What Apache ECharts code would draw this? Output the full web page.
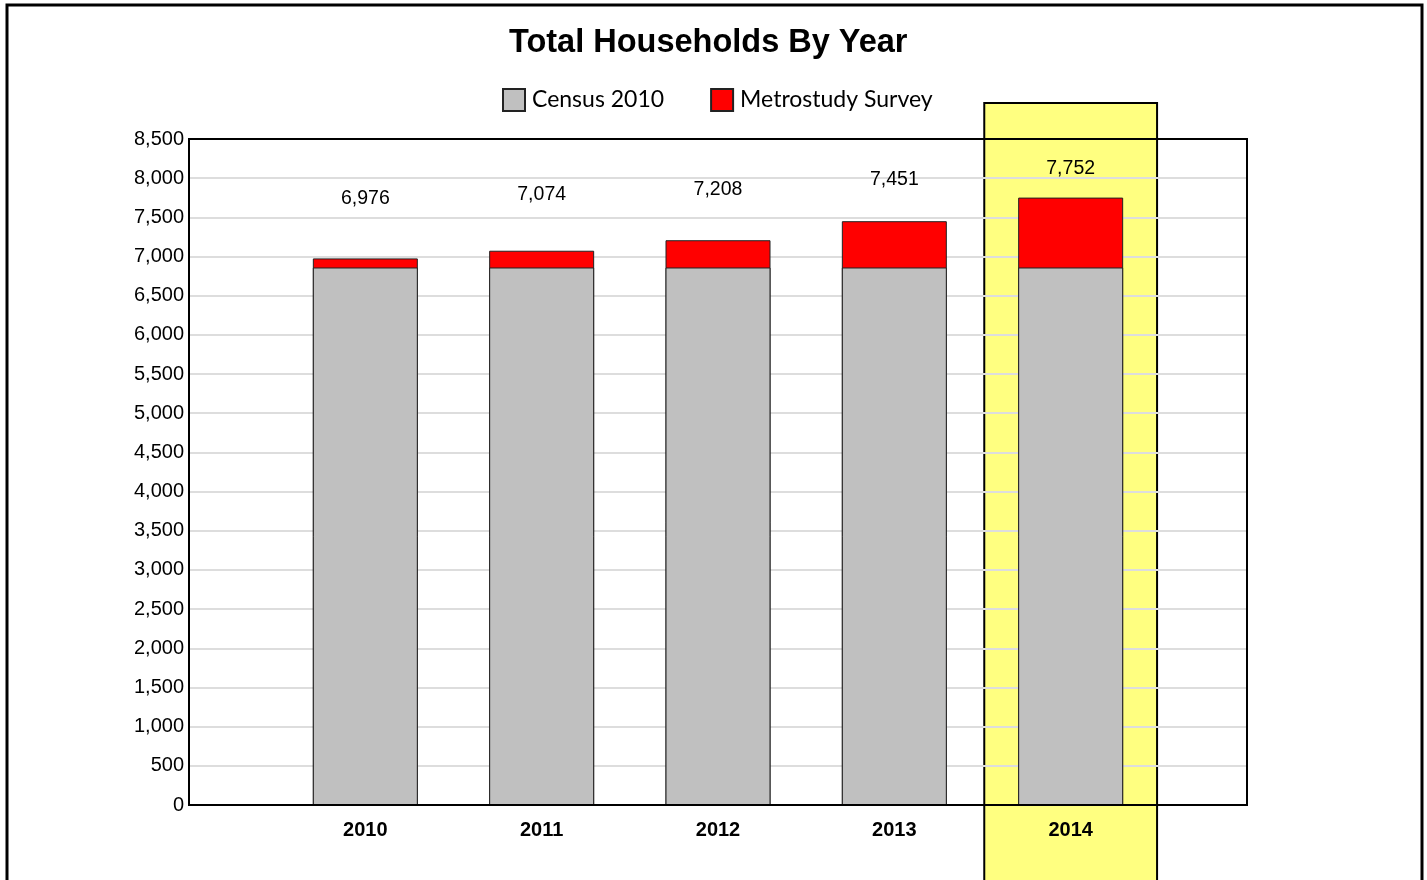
<!DOCTYPE html>
<html>
<head>
<meta charset="utf-8">
<title>Total Households By Year</title>
<script src="https://cdn.jsdelivr.net/npm/echarts@6/dist/echarts.min.js"></script>
<style>
  html, body { margin: 0; padding: 0; background: #fff; }
  #chart { width: 1427px; height: 880px; }
</style>
</head>
<body>
<div id="chart"></div>
<script>
// data
var years = ['2010', '2011', '2012', '2013', '2014'];
var census2010 = [6860, 6860, 6860, 6860, 6860];
var totals = [6976, 7074, 7208, 7451, 7752];
var yTicks = { min: 0, max: 8500, step: 500 };

var chart = echarts.init(document.getElementById('chart'));

function pos(i) { return i + 1; } // year i sits at x = i + 1 on a 0..6 axis

var option = {
    animation: false,
    title: {
        text: 'Total Households By Year',
        left: 504,
        top: 22,
        textStyle: { fontFamily: 'Liberation Sans', fontWeight: 'bold', fontSize: 32.5, color: '#000' }
    },
    legend: {
        left: 497,
        top: 83,
        itemWidth: 22,
        itemHeight: 22,
        itemGap: 46,
        icon: 'rect',
        data: ['Census 2010', 'Metrostudy Survey'],
        textStyle: { fontFamily: 'Lato', fontSize: 23, color: '#000', padding: [0, 0, 0, 2] }
    },
    grid: {
        left: 189, right: 180, top: 139, bottom: 75
    },
    xAxis: {
        type: 'value',
        min: 0, max: 6, interval: 1,
        axisLine: { show: true, lineStyle: { color: '#000', width: 2 } },
        axisTick: { show: false },
        splitLine: { show: false },
        axisLabel: {
            margin: 15,
            fontFamily: 'Liberation Sans', fontWeight: 'bold', fontSize: 20, color: '#000',
            formatter: function (v) { return years[v - 1] || ''; }
        }
    },
    yAxis: {
        type: 'value',
        min: yTicks.min, max: yTicks.max, interval: yTicks.step,
        axisLine: { show: true, lineStyle: { color: '#000', width: 2 } },
        axisTick: { show: false },
        splitLine: { show: true, lineStyle: { color: '#dddddd', width: 2 } },
        axisLabel: {
            margin: 5,
            fontFamily: 'Liberation Sans', fontSize: 20, color: '#000',
            formatter: function (v) { return v.toLocaleString('en-US'); }
        }
    },
    series: [
        {
            // full total in red, the census part is drawn over it
            name: 'Metrostudy Survey',
            type: 'bar',
            barWidth: 105,
            barGap: '-100%',
            itemStyle: { color: '#ff0000', borderColor: '#222', borderWidth: 1 },
            data: totals.map(function (v, i) { return [pos(i), v]; })
        },
        {
            name: 'Census 2010',
            type: 'bar',
            barWidth: 105,
            barGap: '-100%',
            itemStyle: { color: '#c0c0c0', borderColor: '#222', borderWidth: 1 },
            data: census2010.map(function (v, i) { return [pos(i), v]; })
        },
        {
            // total labels, placed halfway between bar top and axis max
            name: 'totals',
            type: 'scatter',
            symbolSize: 1,
            silent: true,
            z: 20,
            itemStyle: { color: '#000', opacity: 0 },
            label: {
                show: true,
                position: 'inside',
                fontFamily: 'Liberation Sans', fontSize: 19.5, color: '#000',
                opacity: 1, textBorderWidth: 0,
                formatter: function (p) { return totals[p.dataIndex].toLocaleString('en-US'); }
            },
            data: totals.map(function (t, i) { return [pos(i), (t + yTicks.max) / 2]; })
        }
    ]
};

chart.setOption(option);

// highlight box behind the last year, plot frame, outer frame
var hi = pos(years.length - 1);
var x0 = chart.convertToPixel({ xAxisIndex: 0 }, hi - 0.49);
var x1 = chart.convertToPixel({ xAxisIndex: 0 }, hi + 0.49);
var gl = chart.convertToPixel({ xAxisIndex: 0 }, 0);
var gr = chart.convertToPixel({ xAxisIndex: 0 }, 6);
var gt = chart.convertToPixel({ yAxisIndex: 0 }, yTicks.max);
var gb = chart.convertToPixel({ yAxisIndex: 0 }, yTicks.min);
chart.setOption({
    graphic: [
        {
            type: 'rect', z: -1,
            shape: { x: x0, y: 103, width: x1 - x0, height: 800 },
            style: { fill: '#ffff80', stroke: '#000', lineWidth: 2 }
        },
        {
            type: 'rect', z: 50, silent: true,
            shape: { x: gl, y: gt, width: gr - gl, height: gb - gt },
            style: { fill: 'none', stroke: '#000', lineWidth: 2 }
        },
        {
            type: 'rect', z: 100, silent: true,
            shape: { x: 7, y: 5, width: 1415, height: 900 },
            style: { fill: 'none', stroke: '#000', lineWidth: 3 }
        }
    ]
});
</script>
</body>
</html>
